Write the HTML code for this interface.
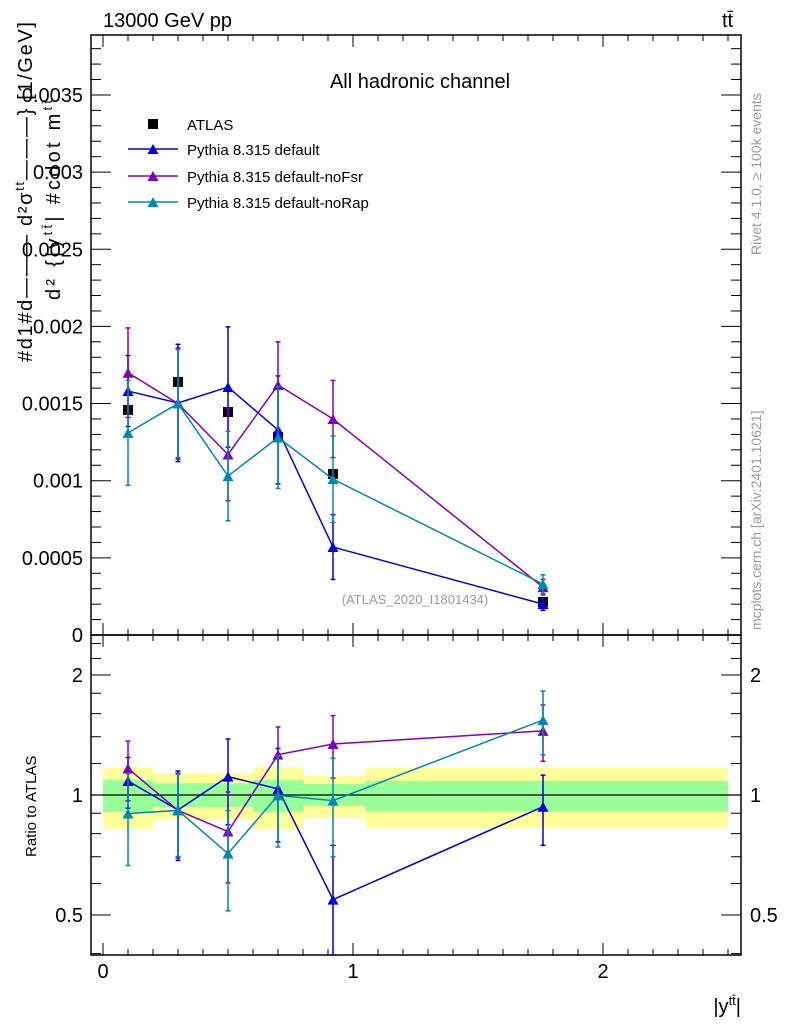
<!DOCTYPE html>
<html><head><meta charset="utf-8"><style>
body{margin:0;background:#fff;}
svg{display:block;font-family:"Liberation Sans",sans-serif;}
</style></head><body>
<svg id="chart" width="786" height="1024" viewBox="0 0 786 1024" xmlns="http://www.w3.org/2000/svg">
<g id="bands"></g>
<g id="grid"></g>
<g id="series"></g>
<text x="103" y="27" font-size="20">13000 GeV pp</text>
<text x="722" y="27" font-size="20">tt̄</text>
<text x="420" y="88" font-size="20" text-anchor="middle">All hadronic channel</text>
<text x="415" y="604" font-size="13" fill="#999" text-anchor="middle">(ATLAS_2020_I1801434)</text>
<text transform="translate(761,255) rotate(-90)" font-size="14" fill="#999">Rivet 4.1.0, ≥ 100k events</text>
<text transform="translate(761,630) rotate(-90)" font-size="14" fill="#999">mcplots.cern.ch [arXiv:2401.10621]</text>
<text transform="translate(32,362) rotate(-90)" font-size="20" textLength="340" lengthAdjust="spacing">#d1#d——— d²σ<tspan font-size="13" dy="-8">tt</tspan><tspan dy="8">———} [1/GeV]</tspan></text>
<text transform="translate(60,300) rotate(-90)" font-size="20" textLength="200" lengthAdjust="spacing">d² {|y<tspan font-size="13" dy="-8">tt̄</tspan><tspan dy="8">| #cdot m</tspan><tspan font-size="13" dy="-8">tt̄</tspan></text>
<text transform="translate(36,857) rotate(-90)" font-size="15">Ratio to ATLAS</text>
<text x="741" y="1013" font-size="20" text-anchor="end">|y<tspan font-size="13" dy="-8">tt̄</tspan><tspan dy="8">|</tspan></text>
<g>
<rect x="148" y="119" width="10" height="10" fill="#000"/>
<text x="187" y="130" font-size="15">ATLAS</text>
<line x1="128" x2="178" y1="149" y2="149" stroke="#0000dd" stroke-width="1.5"/><path d="M147.5 154 L153 144 L158.5 154Z" fill="#0000dd"/>
<text x="187" y="155" font-size="15">Pythia 8.315 default</text>
<line x1="128" x2="178" y1="176" y2="176" stroke="#7f00bf" stroke-width="1.5"/><path d="M147.5 181 L153 171 L158.5 181Z" fill="#7f00bf"/>
<text x="187" y="182" font-size="15">Pythia 8.315 default-noFsr</text>
<line x1="128" x2="178" y1="202" y2="202" stroke="#0087b4" stroke-width="1.5"/><path d="M147.5 207 L153 197 L158.5 207Z" fill="#0087b4"/>
<text x="187" y="208" font-size="15">Pythia 8.315 default-noRap</text>
</g>
</svg>
<script>
const xCenters=[0.1,0.3,0.5,0.7,0.92,1.76];
const atlas=[0.001458,0.00164,0.001445,0.001283,0.001043,0.000214];
const atlasErr=[0.00002,0.00002,0.00002,0.00002,0.00002,0.00001];
const pyDefault=[0.001581,0.001504,0.001607,0.001329,0.00057,0.0002];
const pyDefaultErr=[0.00023,0.00038,0.00039,0.00035,0.00021,0.00004];
const pyNoFsr=[0.0017,0.0015,0.00117,0.00162,0.0014,0.00031];
const pyNoFsrErr=[0.00029,0.00036,0.0003,0.00028,0.00025,0.00005];
const pyNoRap=[0.00131,0.0015,0.00103,0.00128,0.00101,0.00033];
const pyNoRapErr=[0.00034,0.00035,0.00029,0.00033,0.00028,0.00006];
const bandEdges=[0,0.2,0.4,0.6,0.8,1.05,2.5];
const bandYellowHi=[1.175,1.136,1.136,1.175,1.116,1.17];
const bandYellowLo=[0.822,0.866,0.866,0.822,0.88,0.825];
const bandGreenHi=[1.09,1.07,1.07,1.09,1.066,1.085];
const bandGreenLo=[0.906,0.933,0.933,0.906,0.94,0.91];
const xTicks=[0,1,2];
const yTicks=[0,0.0005,0.001,0.0015,0.002,0.0025,0.003,0.0035];
const yTickLabels=["0","0.0005","0.001","0.0015","0.002","0.0025","0.003","0.0035"];
const rTicks=[0.5,1,2];

const NS="http://www.w3.org/2000/svg";
const L=91,R=741,T=35,MB=635,B=955;
const X=v=>103+250*v;
const Y=v=>635-v/0.001*154.3;
const RY=r=>795-120*Math.log2(r);
function mk(p,tag,a){const e=document.createElementNS(NS,tag);for(const k in a)e.setAttribute(k,a[k]);p.appendChild(e);return e;}
const grid=document.getElementById('grid'),bands=document.getElementById('bands'),ser=document.getElementById('series');

for(let i=0;i<bandEdges.length-1;i++){
  const x1=X(bandEdges[i]),x2=X(bandEdges[i+1]);
  const y=mk(bands,'rect',{x:x1,y:RY(bandYellowHi[i]),width:x2-x1,height:RY(bandYellowLo[i])-RY(bandYellowHi[i]),fill:'#ffff99'});
  
  
  const g=mk(bands,'rect',{x:x1,y:RY(bandGreenHi[i]),width:x2-x1,height:RY(bandGreenLo[i])-RY(bandGreenHi[i]),fill:'#99ff99'});
  
  
}
mk(grid,'line',{x1:L,x2:R,y1:RY(1),y2:RY(1),stroke:'#000','stroke-width':1.3});
mk(grid,'rect',{x:L,y:T,width:R-L,height:MB-T,fill:'none',stroke:'#000','stroke-width':1.5});
mk(grid,'rect',{x:L,y:MB,width:R-L,height:B-MB,fill:'none',stroke:'#000','stroke-width':1.5});
for(let k=0;k<=25;k++){const v=k/10,x=X(v),len=(k%10==0)?12:6;
  for(const [y0,dir] of [[T,1],[MB,-1],[MB,1],[B,-1]]) mk(grid,'line',{x1:x,x2:x,y1:y0,y2:y0+dir*len,stroke:'#000'});}
xTicks.forEach(v=>{const t=mk(grid,'text',{x:X(v),y:978,'font-size':20,'text-anchor':'middle'});t.textContent=v;
 
 });
for(let k=0;k<=38;k++){const v=k*0.0001,y=Y(v),len=(k%5==0)?20:10;
  mk(grid,'line',{x1:L,x2:L+len,y1:y,y2:y,stroke:'#000'});mk(grid,'line',{x1:R,x2:R-len,y1:y,y2:y,stroke:'#000'});}
yTicks.forEach((v,i)=>{const t=mk(grid,'text',{x:83,y:Y(v)+7,'font-size':20,'text-anchor':'end'});t.textContent=yTickLabels[i];
 
 });
[0.4,0.5,0.6,0.7,0.8,0.9,1,1.2,1.4,1.6,1.8,2,2.2,2.4].forEach(r=>{const y=RY(r),len=([0.5,1,2].includes(r))?20:10;
  mk(grid,'line',{x1:L,x2:L+len,y1:y,y2:y,stroke:'#000'});mk(grid,'line',{x1:R,x2:R-len,y1:y,y2:y,stroke:'#000'});});
rTicks.forEach(r=>{for(const [x,a] of [[83,'end'],[750,'start']]){const t=mk(grid,'text',{x:x,y:RY(r)+7,'font-size':20,'text-anchor':a});t.textContent=r;
 
 }});

function tri(x,y,c){return mk(ser,'path',{d:`M${x-5.5} ${y+5} L${x} ${y-5} L${x+5.5} ${y+5}Z`,fill:c});}
function err(x,y1,y2,c){mk(ser,'line',{x1:x,x2:x,y1:y1,y2:y2,stroke:c,'stroke-width':1.5});
  mk(ser,'line',{x1:x-2.5,x2:x+2.5,y1:y1,y2:y1,stroke:c,'stroke-width':1.5});mk(ser,'line',{x1:x-2.5,x2:x+2.5,y1:y2,y2:y2,stroke:c,'stroke-width':1.5});}
function drawMC(vals,errs,c,name){
  const ratio=vals.map((v,i)=>v/atlas[i]);
  const pl=mk(ser,'polyline',{points:xCenters.map((x,i)=>X(x)+','+Y(vals[i])).join(' '),fill:'none',stroke:c,'stroke-width':1.5});
  
  
  const pr=mk(ser,'polyline',{points:xCenters.map((x,i)=>X(x)+','+RY(ratio[i])).join(' '),fill:'none',stroke:c,'stroke-width':1.5});
  
  
  xCenters.forEach((x,i)=>{
    err(X(x),Y(vals[i]+errs[i]),Y(Math.max(vals[i]-errs[i],0)),c);
    const p=tri(X(x),Y(vals[i]),c);
    
    
    const re=errs[i]/atlas[i];
    err(X(x),Math.max(RY(ratio[i]+re),MB),Math.min(RY(Math.max(ratio[i]-re,0.3)),B),c);
    const q=tri(X(x),RY(ratio[i]),c);
    
    
  });
}
xCenters.forEach((x,i)=>{
  err(X(x),Y(atlas[i]+atlasErr[i]),Y(atlas[i]-atlasErr[i]),'#000');
  const r=mk(ser,'rect',{x:X(x)-5,y:Y(atlas[i])-5,width:10,height:10,fill:'#000'});
  
  
});
drawMC(pyDefault,pyDefaultErr,'#0000dd','pythia-default');
drawMC(pyNoFsr,pyNoFsrErr,'#7f00bf','pythia-nofsr');
drawMC(pyNoRap,pyNoRapErr,'#0087b4','pythia-norap');
</script>
</body></html>
